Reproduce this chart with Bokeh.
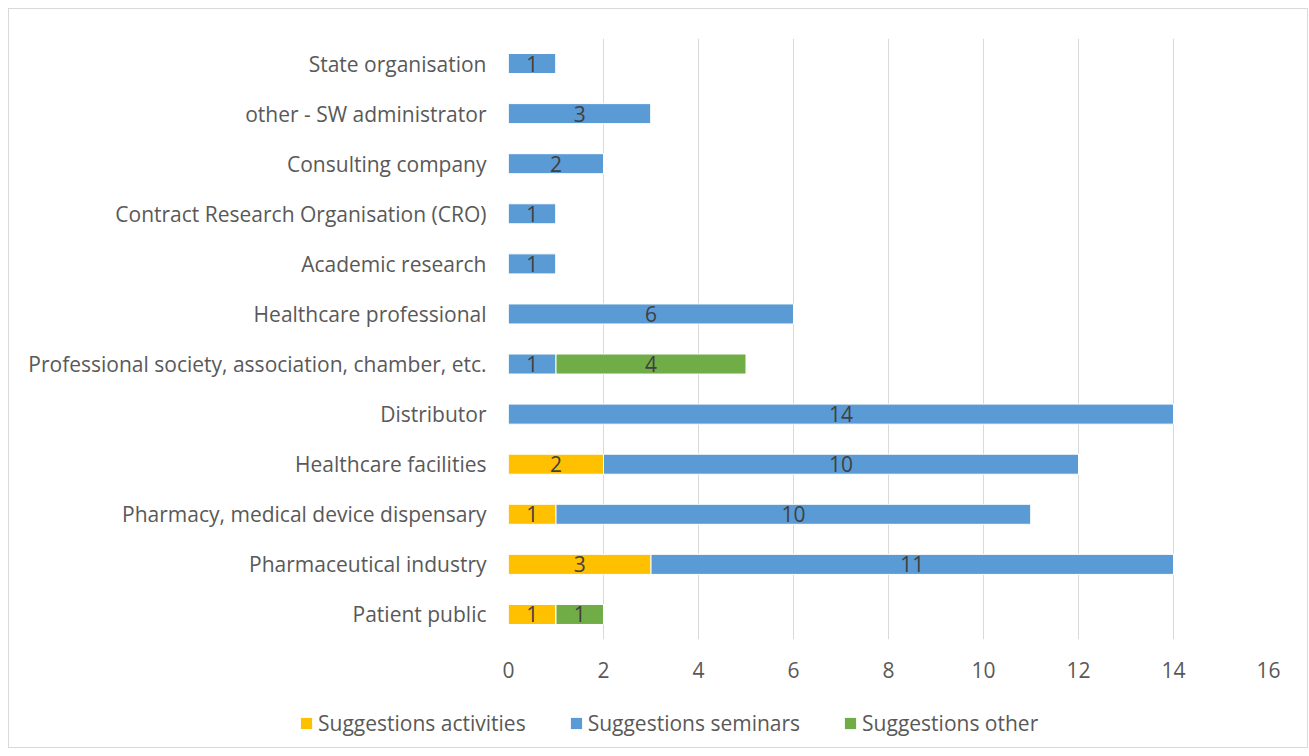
from bokeh.plotting import figure
from bokeh.layouts import column
from bokeh.models import ColumnDataSource, Range1d, FixedTicker, Legend, LegendItem
from bokeh.core.properties import value
from bokeh.embed import file_html
from bokeh.resources import INLINE

categories = [
    "Patient public",
    "Pharmaceutical industry",
    "Pharmacy, medical device dispensary",
    "Healthcare facilities",
    "Distributor",
    "Professional society, association, chamber, etc.",
    "Healthcare professional",
    "Academic research",
    "Contract Research Organisation (CRO)",
    "Consulting company",
    "other - SW administrator",
    "State organisation",
]
activities = [1, 3, 1, 2, 0, 0, 0, 0, 0, 0, 0, 0]
seminars = [0, 11, 10, 10, 14, 1, 6, 1, 1, 2, 3, 1]
other = [1, 0, 0, 0, 0, 4, 0, 0, 0, 0, 0, 0]
series_names = ["Suggestions activities", "Suggestions seminars", "Suggestions other"]
colors = ["#FFC000", "#5B9BD5", "#70AD47"]
x_ticks = [0, 2, 4, 6, 8, 10, 12, 14, 16]

FONT = "Open Sans"
FS = "21px"

src = ColumnDataSource(dict(cat=categories, a=activities, s=seminars, o=other))

p = figure(
    y_range=categories, x_range=Range1d(0, 16),
    width=1298, height=685, output_backend="svg", toolbar_location=None,
    min_border_left=499, min_border_right=39, min_border_top=29, min_border_bottom=55,
)
p.outline_line_color = None
p.frame_align = False

rs = p.hbar_stack(["a", "s", "o"], y="cat", height=0.4, color=colors,
                  line_color="white", line_width=1, source=src)

# data labels
lx, ly, lt = [], [], []
for i, c in enumerate(categories):
    left = 0
    for vals in (activities, seminars, other):
        v = vals[i]
        if v:
            lx.append(left + v / 2)
            ly.append(c)
            lt.append(str(v))
        left += v
p.text(x=lx, y=ly, text=lt, text_align="center", text_baseline="middle",
       text_font=value(FONT), text_font_size=FS, text_color="#404040")

p.xaxis.ticker = FixedTicker(ticks=x_ticks)
for ax in (p.xaxis[0], p.yaxis[0]):
    ax.axis_line_color = None
    ax.major_tick_line_color = None
    ax.minor_tick_line_color = None
    ax.major_tick_in = 0
    ax.major_tick_out = 0
    ax.major_label_text_font = FONT
    ax.major_label_text_color = "#595959"
    ax.major_label_text_font_size = FS
p.yaxis.major_label_standoff = 22
p.xaxis.major_label_standoff = 22

p.xgrid.grid_line_color = "#d9d9d9"
p.xgrid.grid_line_width = 1
p.ygrid.grid_line_color = None

# legend strip (proxy renderers sit outside the visible range)
lg = figure(width=1298, height=53, x_range=Range1d(-100, -99), y_range=Range1d(-100, -99),
            x_axis_type=None, y_axis_type=None, output_backend="svg",
            toolbar_location=None, min_border=0)
lg.frame_align = False
lg.outline_line_color = None
lg.xgrid.visible = False
lg.ygrid.visible = False
lrs = [lg.hbar(y=col, left=col, right=col, height=0, source=src,
               fill_color=c, line_color=None)
       for col, c in zip(["a", "s", "o"], colors)]
legend = Legend(
    items=[LegendItem(label=n, renderers=[r]) for n, r in zip(series_names, lrs)],
    orientation="horizontal", location=(290, 10),
    border_line_color=None, background_fill_alpha=0,
    label_text_font=FONT, label_text_font_size=FS, label_text_color="#595959",
    glyph_width=14, glyph_height=14, label_standoff=5, spacing=43, padding=0, margin=0,
)
lg.add_layout(legend, "center")

layout = column(p, lg, spacing=0)
layout.margin = (8, 0, 0, 8)
layout.styles = {"border": "1px solid #d9d9d9"}

open("out.html", "w").write(file_html(layout, INLINE))
